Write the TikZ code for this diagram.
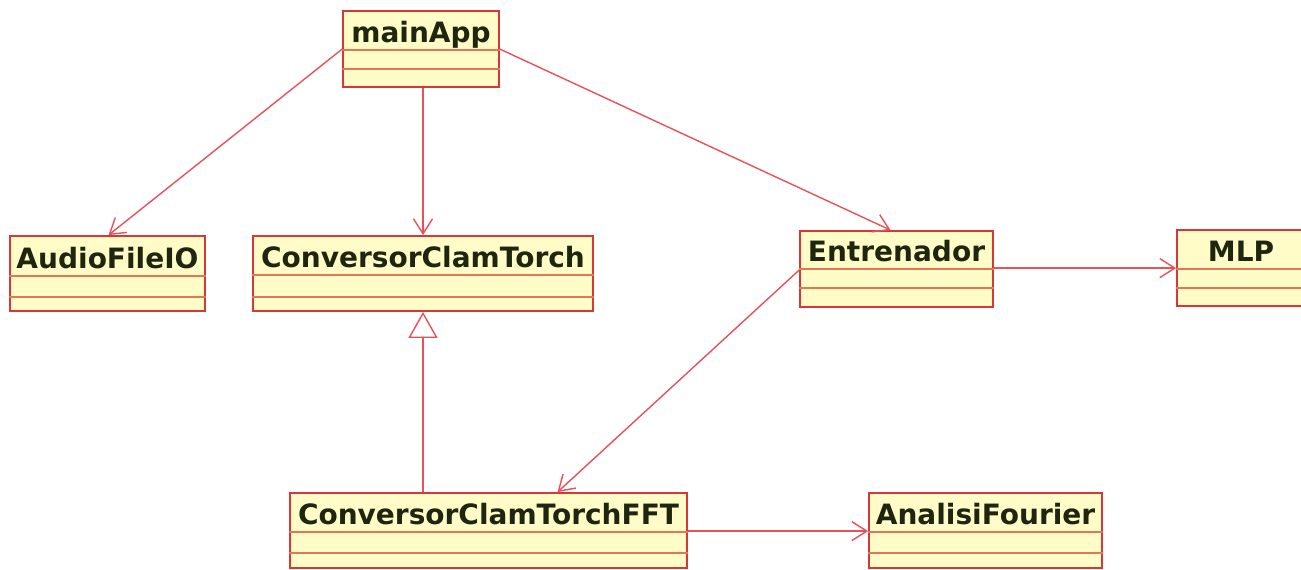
\documentclass[tikz,border=0pt]{standalone}
\usepackage{fontspec}
\setmainfont{DejaVu Sans}
\usetikzlibrary{fit,arrows.meta}

\definecolor{boxborder}{RGB}{215,55,55}
\definecolor{boxfill}{RGB}{255,252,200}
\definecolor{divline}{RGB}{225,120,85}
\definecolor{linkcol}{RGB}{232,80,90}
\definecolor{namecol}{RGB}{30,38,15}

\tikzset{
  classbox/.style={draw=boxborder, fill=boxfill, line width=1.8pt, inner sep=0pt, rectangle},
  classname/.style={font=\fontsize{28}{31}\selectfont\bfseries, text=namecol, inner sep=0pt, anchor=base},
  divider/.style={draw=divline, line width=1.8pt},
  assoc/.style={draw=linkcol, line width=1.4pt, -{Straight Barb[length=15pt, width=19pt, line width=1.4pt]}},
  generalize/.style={draw=linkcol, line width=1.4pt, -{Triangle[open, length=26pt, width=29pt, line width=1.4pt, fill=white]}}
}

% #1 node name, #2-#5 corners (x1,y1,x2,y2), #6 and #7 divider heights, #8 class name
\newcommand\umlclass[8]{%
  \node[classbox, fit={(#2,#3) (#4,#5)}] (#1) {};
  \draw[divider] (#1.west |- 0,#6) -- (#1.east |- 0,#6);
  \draw[divider] (#1.west |- 0,#7) -- (#1.east |- 0,#7);
  \node[classname] (#1-name) at ({(#2+#4)/2},{#6-8}) {#8};
}

\begin{document}
\begin{tikzpicture}[x=1pt, y=-1pt]
  \useasboundingbox (0,0) rectangle (1301,570);

  \umlclass{main}{343}{11}{499}{87}{50}{69}{mainApp}
  \umlclass{audio}{10}{236}{205}{311}{276}{297}{AudioFileIO}
  \umlclass{ctorch}{253}{236}{593}{311}{275}{297}{ConversorClamTorch}
  \umlclass{ent}{800}{231}{993}{307}{269}{288}{Entrenador}
  \umlclass{mlp}{1177}{230}{1305}{306}{269}{288}{MLP}
  \umlclass{fft}{290}{493}{687}{568}{532}{553}{ConversorClamTorchFFT}
  \umlclass{fourier}{869}{493}{1102}{568}{532}{553}{AnalisiFourier}

  % associations
  \draw[assoc] ([yshift=-39pt]main.north west) -- ([xshift=1pt]audio.north);
  \draw[assoc] ([xshift=2pt]main.south) -- ([xshift=2pt]main.south |- ctorch.north);
  \draw[assoc] ([yshift=-39pt]main.north east) -- ([xshift=-6pt]ent.north);
  \draw[assoc] ([yshift=-38pt]ent.north east) -- ([yshift=-39pt]mlp.north west);
  \draw[assoc] ([yshift=-40pt]ent.north west) -- ([xshift=69pt]fft.north);
  \draw[assoc] ([yshift=-39pt]fft.north east) -- ([yshift=-39pt]fourier.north west);

  % inheritance
  \draw[generalize] ([xshift=-65.5pt]fft.north) -- ([xshift=-65.5pt]fft.north |- ctorch.south);
\end{tikzpicture}
\end{document}
